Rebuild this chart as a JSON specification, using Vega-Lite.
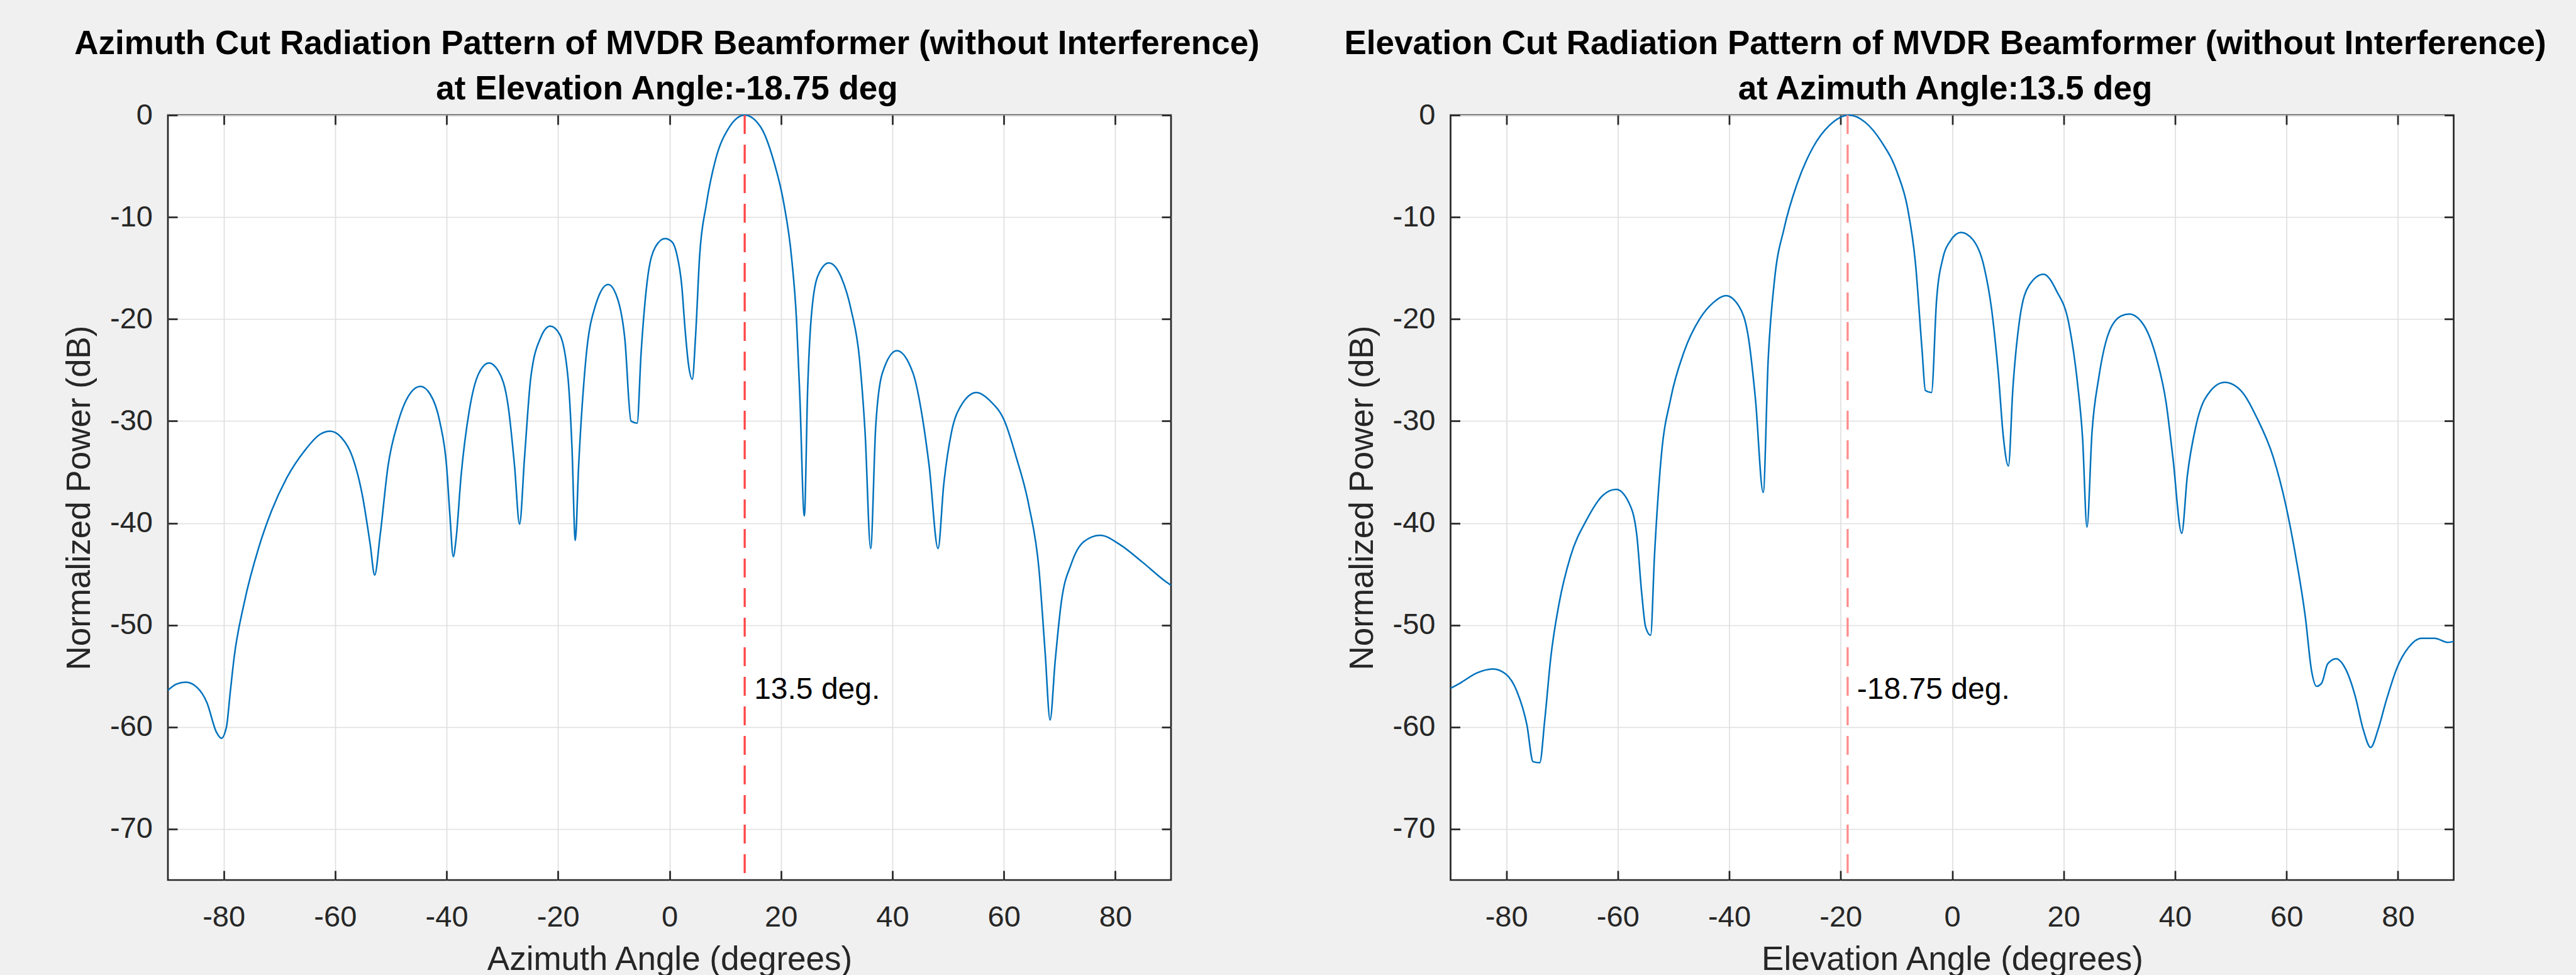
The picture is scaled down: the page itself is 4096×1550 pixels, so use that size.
{
  "$schema": "https://vega.github.io/schema/vega-lite/v6.json",
  "background": "#f0f0f0",
  "padding": {"left": 99, "top": 42, "right": 49, "bottom": 0},
  "bounds": "flush",
  "spacing": 444.5,
  "config": {
    "font": "Liberation Sans",
    "view": {"fill": "white", "stroke": "#262626", "strokeWidth": 2.7}
  },
  "datasets": {
    "az": [
      {"angle": -90, "power": -56.4}, {"angle": -88.5, "power": -55.8}, {"angle": -86.8, "power": -55.6}, {"angle": -84.8, "power": -56.1}, {"angle": -83, "power": -57.6}, {"angle": -81.3, "power": -60.5}, {"angle": -80.4, "power": -61.1}, {"angle": -79.5, "power": -60}, {"angle": -78.8, "power": -56.5}, {"angle": -78.1, "power": -53.1}, {"angle": -76.3, "power": -47.8}, {"angle": -73.7, "power": -42.4}, {"angle": -71.4, "power": -38.8}, {"angle": -68.5, "power": -35.4}, {"angle": -65.6, "power": -33}, {"angle": -62.7, "power": -31.3}, {"angle": -60.9, "power": -31.0}, {"angle": -58.9, "power": -31.6}, {"angle": -56.9, "power": -33.5}, {"angle": -55.1, "power": -37.3}, {"angle": -53.7, "power": -42.1}, {"angle": -52.9, "power": -45.1}, {"angle": -51.9, "power": -41.1}, {"angle": -50.5, "power": -34.4}, {"angle": -48.7, "power": -30.1}, {"angle": -46.4, "power": -27.2}, {"angle": -44.7, "power": -26.6}, {"angle": -42.9, "power": -27.4}, {"angle": -41.2, "power": -30.1}, {"angle": -40, "power": -34.4}, {"angle": -39.4, "power": -39.2}, {"angle": -38.8, "power": -43.3}, {"angle": -38.3, "power": -41.6}, {"angle": -37.4, "power": -35.4}, {"angle": -35.9, "power": -28.9}, {"angle": -34.2, "power": -25.3}, {"angle": -32.4, "power": -24.3}, {"angle": -30.7, "power": -25.1}, {"angle": -28.9, "power": -28.7}, {"angle": -27.8, "power": -34.4}, {"angle": -26.9, "power": -40.1}, {"angle": -26, "power": -33.5}, {"angle": -24.9, "power": -25.8}, {"angle": -23.1, "power": -21.8}, {"angle": -21.4, "power": -20.7}, {"angle": -19.7, "power": -21.5}, {"angle": -18.2, "power": -25.8}, {"angle": -17.5, "power": -32.5}, {"angle": -16.9, "power": -41.7}, {"angle": -16.3, "power": -34.4}, {"angle": -15, "power": -23.9}, {"angle": -13.3, "power": -18.7}, {"angle": -11.0, "power": -16.6}, {"angle": -9.2, "power": -18.2}, {"angle": -8.0, "power": -22}, {"angle": -6.9, "power": -30.0}, {"angle": -5.8, "power": -30.2}, {"angle": -5.1, "power": -23.4}, {"angle": -4.0, "power": -16.3}, {"angle": -2.5, "power": -12.9}, {"angle": -0.8, "power": -12.1}, {"angle": 0.4, "power": -12.4}, {"angle": 1.3, "power": -13.6}, {"angle": 2.2, "power": -16.7}, {"angle": 2.8, "power": -21}, {"angle": 3.4, "power": -24.4}, {"angle": 4.1, "power": -25.9}, {"angle": 4.7, "power": -21.5}, {"angle": 5.4, "power": -13.9}, {"angle": 6.6, "power": -8.8}, {"angle": 8.3, "power": -4.3}, {"angle": 10.6, "power": -1.3}, {"angle": 13.5, "power": 0}, {"angle": 16.4, "power": -1.2}, {"angle": 18.7, "power": -4.5}, {"angle": 20.5, "power": -8.6}, {"angle": 21.9, "power": -13.9}, {"angle": 22.8, "power": -20.1}, {"angle": 23.4, "power": -27.7}, {"angle": 24.2, "power": -39.3}, {"angle": 24.8, "power": -26.8}, {"angle": 25.4, "power": -20.1}, {"angle": 26.6, "power": -15.8}, {"angle": 28.6, "power": -14.5}, {"angle": 30.9, "power": -16}, {"angle": 32.6, "power": -19.1}, {"angle": 34.1, "power": -23.9}, {"angle": 35.1, "power": -31.1}, {"angle": 36.1, "power": -42.5}, {"angle": 37, "power": -30.6}, {"angle": 38.2, "power": -25.3}, {"angle": 40.8, "power": -23.1}, {"angle": 43.7, "power": -25.3}, {"angle": 45.4, "power": -29.7}, {"angle": 46.6, "power": -34.4}, {"angle": 48.2, "power": -42.5}, {"angle": 49.2, "power": -36.3}, {"angle": 50.6, "power": -31.1}, {"angle": 52.3, "power": -28.5}, {"angle": 55.1, "power": -27.2}, {"angle": 57.5, "power": -28}, {"angle": 60.2, "power": -30.1}, {"angle": 62.2, "power": -33.5}, {"angle": 64.5, "power": -38.3}, {"angle": 66.3, "power": -44.5}, {"angle": 67.4, "power": -52.6}, {"angle": 68.3, "power": -59.3}, {"angle": 69.2, "power": -53.6}, {"angle": 70.3, "power": -47.8}, {"angle": 72.1, "power": -44}, {"angle": 74.4, "power": -41.8}, {"angle": 77.3, "power": -41.2}, {"angle": 80.8, "power": -42.1}, {"angle": 84.8, "power": -43.8}, {"angle": 89.2, "power": -45.8}, {"angle": 90, "power": -46.1}
    ],
    "el": [
      {"angle": -90, "power": -56.2}, {"angle": -88.3, "power": -55.7}, {"angle": -85.3, "power": -54.7}, {"angle": -82.4, "power": -54.3}, {"angle": -80.1, "power": -54.8}, {"angle": -78.1, "power": -56.5}, {"angle": -76.3, "power": -59.8}, {"angle": -75.2, "power": -63.4}, {"angle": -74, "power": -63.5}, {"angle": -73.1, "power": -59.3}, {"angle": -72, "power": -53.1}, {"angle": -70.5, "power": -47.8}, {"angle": -68.5, "power": -43.3}, {"angle": -65.6, "power": -39.7}, {"angle": -62.7, "power": -37.3}, {"angle": -60.3, "power": -36.7}, {"angle": -58, "power": -38}, {"angle": -56.6, "power": -41.1}, {"angle": -55.7, "power": -46.9}, {"angle": -55, "power": -50.2}, {"angle": -54.1, "power": -51}, {"angle": -53.4, "power": -43.1}, {"angle": -52.2, "power": -33.5}, {"angle": -50.5, "power": -27.8}, {"angle": -48.1, "power": -23.2}, {"angle": -45.2, "power": -19.9}, {"angle": -42.9, "power": -18.4}, {"angle": -40.6, "power": -17.7}, {"angle": -38.3, "power": -18.7}, {"angle": -36.5, "power": -22}, {"angle": -35.3, "power": -27.8}, {"angle": -33.9, "power": -37}, {"angle": -33.0, "power": -23.9}, {"angle": -31.9, "power": -16.3}, {"angle": -30.1, "power": -11}, {"angle": -27.8, "power": -6.7}, {"angle": -24.9, "power": -3.1}, {"angle": -22, "power": -1}, {"angle": -18.5, "power": 0}, {"angle": -15.6, "power": -0.7}, {"angle": -12.7, "power": -2.6}, {"angle": -9.8, "power": -5.7}, {"angle": -8, "power": -9.1}, {"angle": -6.6, "power": -14.4}, {"angle": -5.4, "power": -23}, {"angle": -4.8, "power": -27}, {"angle": -3.7, "power": -27.2}, {"angle": -2.8, "power": -18.2}, {"angle": -1.6, "power": -13.9}, {"angle": -0.4, "power": -12.4}, {"angle": 1.6, "power": -11.5}, {"angle": 3.7, "power": -12.2}, {"angle": 5.7, "power": -14.8}, {"angle": 7.1, "power": -19.1}, {"angle": 8.3, "power": -25.4}, {"angle": 9.2, "power": -31.6}, {"angle": 10.1, "power": -34.4}, {"angle": 10.9, "power": -26.8}, {"angle": 12.1, "power": -20.1}, {"angle": 13.8, "power": -16.7}, {"angle": 16.4, "power": -15.6}, {"angle": 18.7, "power": -17.2}, {"angle": 21.0, "power": -20.6}, {"angle": 22.5, "power": -26.3}, {"angle": 23.4, "power": -31.6}, {"angle": 24.2, "power": -40.4}, {"angle": 25.1, "power": -31.1}, {"angle": 26.3, "power": -25.8}, {"angle": 28, "power": -21.5}, {"angle": 30.3, "power": -19.7}, {"angle": 31.8, "power": -19.5}, {"angle": 34.4, "power": -20.6}, {"angle": 36.7, "power": -23.9}, {"angle": 38.4, "power": -28.2}, {"angle": 39.6, "power": -33.5}, {"angle": 41.2, "power": -41}, {"angle": 42.2, "power": -35.4}, {"angle": 43.7, "power": -30.6}, {"angle": 45.4, "power": -27.8}, {"angle": 48.9, "power": -26.2}, {"angle": 51.8, "power": -27}, {"angle": 54.7, "power": -29.7}, {"angle": 57.6, "power": -33.5}, {"angle": 59.9, "power": -38.3}, {"angle": 61.6, "power": -43.1}, {"angle": 63.4, "power": -49.3}, {"angle": 64.5, "power": -54.5}, {"angle": 65.4, "power": -56}, {"angle": 66.3, "power": -55.7}, {"angle": 67.4, "power": -53.8}, {"angle": 68.9, "power": -53.3}, {"angle": 70.6, "power": -54.3}, {"angle": 72.3, "power": -56.9}, {"angle": 73.8, "power": -60.3}, {"angle": 75.1, "power": -62}, {"angle": 76.4, "power": -60.3}, {"angle": 77.9, "power": -57.4}, {"angle": 79.9, "power": -54.1}, {"angle": 81.9, "power": -52.2}, {"angle": 84.2, "power": -51.3}, {"angle": 86.6, "power": -51.3}, {"angle": 88.9, "power": -51.7}, {"angle": 90, "power": -51.6}
    ],
    "azmark": [{"angle": 13.5, "power": -56.4, "label": "13.5 deg."}],
    "elmark": [{"angle": -18.75, "power": -56.4, "label": "-18.75 deg."}]
  },
  "hconcat": [
    {
      "width": 1595,
      "height": 1216,
      "title": {"text": ["Azimuth Cut Radiation Pattern of MVDR Beamformer (without Interference)", "at Elevation Angle:-18.75 deg"], "fontSize": 53, "fontWeight": "bold", "color": "#000000", "anchor": "middle", "frame": "group", "offset": -63, "baseline": "bottom", "lineHeight": 72, "dx": -4},
      "layer": [
        {
          "data": {"name": "az"},
          "mark": {"type": "line", "color": "#0072BD", "strokeWidth": 2.5, "interpolate": "monotone"},
          "encoding": {
            "x": {"field": "angle", "type": "quantitative", "scale": {"domain": [-90, 90], "nice": false, "zero": false},
              "axis": {"orient": "bottom", "values": [-80, -60, -40, -20, 0, 20, 40, 60, 80], "title": "Azimuth Angle (degrees)", "grid": true, "gridColor": "#dfdfdf", "gridWidth": 1.7, "domain": false, "tickSize": -15, "tickColor": "#262626", "tickWidth": 2.7, "labelFontSize": 47, "labelColor": "#262626", "labelPadding": 88.4, "labelBaseline": "alphabetic", "labelFlush": false, "labelExpr": "'' + datum.value", "titleFontSize": 53, "titleFontWeight": "normal", "titleColor": "#262626", "titleBaseline": "alphabetic", "titleY": 142.5, "titlePadding": 0}},
            "y": {"field": "power", "type": "quantitative", "scale": {"domain": [-75, 0], "nice": false, "zero": false},
              "axis": {"orient": "left", "values": [0, -10, -20, -30, -40, -50, -60, -70], "title": "Normalized Power (dB)", "grid": true, "gridColor": "#dfdfdf", "gridWidth": 1.7, "domain": false, "tickSize": -15, "tickColor": "#262626", "tickWidth": 2.7, "labelFontSize": 47, "labelColor": "#262626", "labelPadding": 39.5, "labelFlush": false, "labelExpr": "'' + datum.value", "titleFontSize": 53, "titleFontWeight": "normal", "titleColor": "#262626", "titleBaseline": "alphabetic", "titleX": -124.5, "titleY": 608}}
          }
        },
        {
          "data": {"name": "azmark"},
          "mark": {"type": "rule", "color": "#ff4545", "strokeWidth": 3.3, "strokeDash": [30, 17]},
          "encoding": {"x": {"field": "angle", "type": "quantitative", "axis": null}}
        },
        {
          "data": {"name": "azmark"},
          "mark": {"type": "text", "align": "left", "baseline": "middle", "dx": 15, "fontSize": 48, "color": "#000000"},
          "encoding": {
            "x": {"field": "angle", "type": "quantitative", "axis": {"orient": "top", "values": [-80, -60, -40, -20, 0, 20, 40, 60, 80], "labels": false, "grid": false, "domain": false, "tickSize": -15, "tickColor": "#262626", "tickWidth": 2.7, "title": null}},
            "y": {"field": "power", "type": "quantitative", "axis": {"orient": "right", "values": [0, -10, -20, -30, -40, -50, -60, -70], "labels": false, "grid": false, "domain": false, "tickSize": -15, "tickColor": "#262626", "tickWidth": 2.7, "title": null}},
            "text": {"field": "label"}
          }
        }
      ],
      "resolve": {"axis": {"x": "independent", "y": "independent"}}
    },
    {
      "width": 1595,
      "height": 1216,
      "title": {"text": ["Elevation Cut Radiation Pattern of MVDR Beamformer (without Interference)", "at Azimuth Angle:13.5 deg"], "fontSize": 53, "fontWeight": "bold", "color": "#000000", "anchor": "middle", "frame": "group", "offset": -63, "baseline": "bottom", "lineHeight": 72, "dx": -11},
      "layer": [
        {
          "data": {"name": "el"},
          "mark": {"type": "line", "color": "#0072BD", "strokeWidth": 2.5, "interpolate": "monotone"},
          "encoding": {
            "x": {"field": "angle", "type": "quantitative", "scale": {"domain": [-90, 90], "nice": false, "zero": false},
              "axis": {"orient": "bottom", "values": [-80, -60, -40, -20, 0, 20, 40, 60, 80], "title": "Elevation Angle (degrees)", "grid": true, "gridColor": "#dfdfdf", "gridWidth": 1.7, "domain": false, "tickSize": -15, "tickColor": "#262626", "tickWidth": 2.7, "labelFontSize": 47, "labelColor": "#262626", "labelPadding": 88.4, "labelBaseline": "alphabetic", "labelFlush": false, "labelExpr": "'' + datum.value", "titleFontSize": 53, "titleFontWeight": "normal", "titleColor": "#262626", "titleBaseline": "alphabetic", "titleY": 142.5, "titlePadding": 0}},
            "y": {"field": "power", "type": "quantitative", "scale": {"domain": [-75, 0], "nice": false, "zero": false},
              "axis": {"orient": "left", "values": [0, -10, -20, -30, -40, -50, -60, -70], "title": "Normalized Power (dB)", "grid": true, "gridColor": "#dfdfdf", "gridWidth": 1.7, "domain": false, "tickSize": -15, "tickColor": "#262626", "tickWidth": 2.7, "labelFontSize": 47, "labelColor": "#262626", "labelPadding": 39.5, "labelFlush": false, "labelExpr": "'' + datum.value", "titleFontSize": 53, "titleFontWeight": "normal", "titleColor": "#262626", "titleBaseline": "alphabetic", "titleX": -124.5, "titleY": 608}}
          }
        },
        {
          "data": {"name": "elmark"},
          "mark": {"type": "rule", "color": "#ff8c8c", "strokeWidth": 3.3, "strokeDash": [30, 17]},
          "encoding": {"x": {"field": "angle", "type": "quantitative", "axis": null}}
        },
        {
          "data": {"name": "elmark"},
          "mark": {"type": "text", "align": "left", "baseline": "middle", "dx": 15, "fontSize": 48, "color": "#000000"},
          "encoding": {
            "x": {"field": "angle", "type": "quantitative", "axis": {"orient": "top", "values": [-80, -60, -40, -20, 0, 20, 40, 60, 80], "labels": false, "grid": false, "domain": false, "tickSize": -15, "tickColor": "#262626", "tickWidth": 2.7, "title": null}},
            "y": {"field": "power", "type": "quantitative", "axis": {"orient": "right", "values": [0, -10, -20, -30, -40, -50, -60, -70], "labels": false, "grid": false, "domain": false, "tickSize": -15, "tickColor": "#262626", "tickWidth": 2.7, "title": null}},
            "text": {"field": "label"}
          }
        }
      ],
      "resolve": {"axis": {"x": "independent", "y": "independent"}}
    }
  ]
}
